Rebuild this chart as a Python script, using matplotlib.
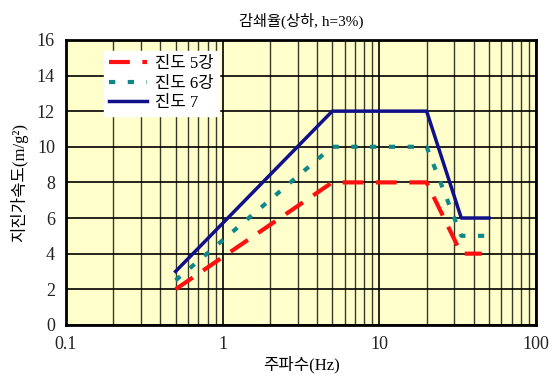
import numpy as np
import matplotlib.pyplot as plt
from matplotlib.ticker import FixedLocator, NullFormatter

# --- data ---
freq_5 = [0.5, 5, 20, 33.3, 45]
acc_5 = [2, 8, 8, 4, 4]
freq_6 = [0.5, 5, 20, 33.3, 48]
acc_6 = [2.5, 10, 10, 5, 5]
freq_7 = [0.5, 5, 20, 33.3, 50]
acc_7 = [3, 12, 12, 6, 6]
labels = ['진도 5강', '진도 6강', '진도 7']
xticks = [0.1, 1, 10, 100]
xtick_labels = ['0.1', '1', '10', '100']
yticks = list(range(0, 17, 2))

plt.rcParams['font.family'] = ['Liberation Serif', 'Noto Sans CJK KR']

fig = plt.figure(figsize=(5.55, 3.8), dpi=100)
ax = fig.add_axes([0.119, 0.145, 0.847, 0.75])
ax.set_facecolor('#ffffcc')

ax.set_xscale('log')
ax.set_xlim(0.1, 100)
ax.set_ylim(0, 16)

# grid
minor = [m * d for d in [0.1, 1, 10] for m in range(2, 10)]
ax.xaxis.set_minor_locator(FixedLocator(minor))
ax.xaxis.set_minor_formatter(NullFormatter())
ax.set_xticks(xticks)
ax.set_xticklabels(xtick_labels)
ax.set_yticks(yticks)
ax.grid(which='major', color='black', linewidth=1.2)
ax.grid(which='minor', axis='x', color='#3a3a28', linewidth=1.0)
ax.set_axisbelow(True)

ax.plot(freq_5, acc_5, color='#ff1010', linewidth=3, linestyle=(0, (5, 3)), label=labels[0])
ax.plot(freq_6, acc_6, color='#118888', linewidth=3, linestyle=(0, (1.5, 3)), label=labels[1])
ax.plot(freq_7, acc_7, color='#10108a', linewidth=2.5, label=labels[2])

for s in ax.spines.values():
    s.set_linewidth(2)
    s.set_color('black')

ax.tick_params(which='both', length=0, labelsize=13, colors='#222222', pad=8)

ax.set_title('감쇄율(상하, h=3%)', fontsize=11, pad=10)
ax.set_xlabel('주파수(Hz)', fontsize=12, labelpad=2)
ax.set_ylabel('지진가속도(m/g²)', fontsize=12, labelpad=6)

leg = ax.legend(loc='upper left', bbox_to_anchor=(0.08, 0.96), fontsize=12,
                frameon=True, fancybox=False, handlelength=2.3,
                borderpad=0.3, labelspacing=0.2, handletextpad=0.5, borderaxespad=0)
leg.get_frame().set_facecolor('white')
leg.get_frame().set_edgecolor('white')
leg.get_frame().set_alpha(1)

fig.savefig('out.png', dpi=100, facecolor='white')
